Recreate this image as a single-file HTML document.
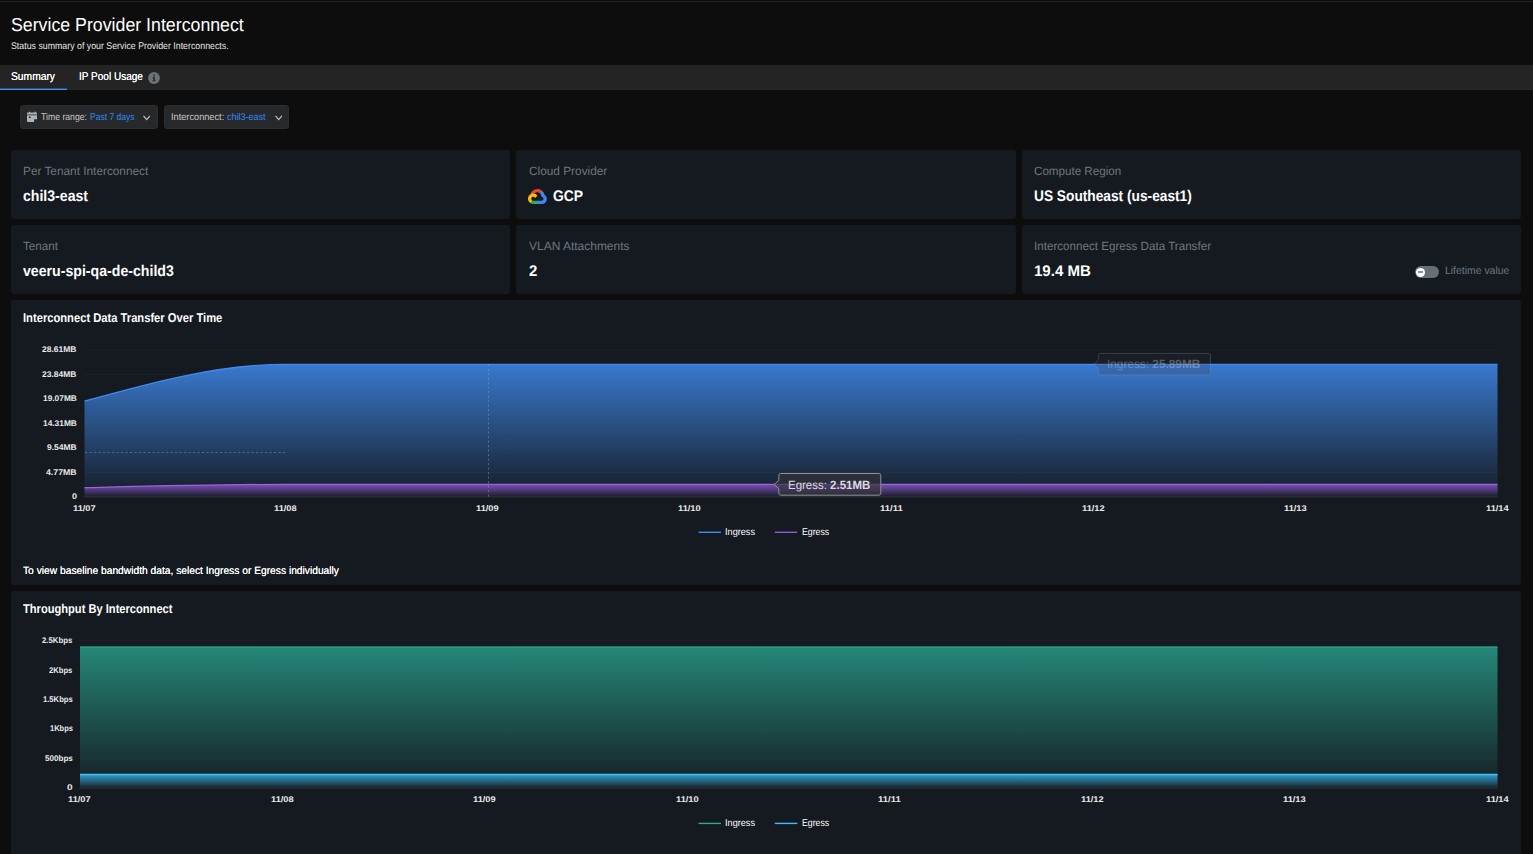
<!DOCTYPE html>
<html lang="en"><head><meta charset="utf-8"><title>Service Provider Interconnect</title>
<style>
html,body{margin:0;padding:0;background:#0d0d0d;overflow:hidden;}
body{width:1533px;height:854px;font-family:"Liberation Sans",sans-serif;}
#root{position:relative;width:1533px;height:854px;overflow:hidden;background:#0d0d0d;}
.t{position:absolute;white-space:nowrap;line-height:1;transform-origin:0 50%;display:block;text-rendering:geometricPrecision;}
.t b{font-weight:700;}
.card{position:absolute;background:#151a21;border-radius:3px;}
</style></head><body><div id="root">
<div style="position:absolute;left:0;top:1px;width:1533px;height:1px;background:#222"></div>
<div style="position:absolute;left:0;top:65px;width:1533px;height:24px;background:#242424"></div>
<div style="position:absolute;left:0;top:89px;width:1533px;height:1px;background:#1e2933"></div>
<div style="position:absolute;left:0;top:88px;width:67px;height:1px;background:rgba(58,148,255,.38)"></div>
<div style="position:absolute;left:0;top:89px;width:67px;height:1px;background:#3a94ff"></div>
<svg style="position:absolute;left:148px;top:72px" width="12" height="12" viewBox="0 0 12 12"><circle cx="6" cy="6" r="5.9" fill="#6a737b"/><rect x="5.2" y="2.6" width="1.7" height="1.6" fill="#2b2e31"/><path d="M4.6 5h2.3v3.3h.7v1H4.5v-1h.7V5.9h-.6z" fill="#2b2e31"/></svg>
<div style="position:absolute;left:20px;top:105px;width:138px;height:24px;box-sizing:border-box;background:#27282a;border:1px solid #24303a;border-radius:3px"></div>
<div style="position:absolute;left:164px;top:105px;width:125px;height:24px;box-sizing:border-box;background:#27282a;border:1px solid #24303a;border-radius:3px"></div>
<svg style="position:absolute;left:27px;top:110.5px" width="10.2" height="11.2" viewBox="0 0 10.2 11.2"><g fill="#adb2b9"><rect x="1.9" y=".5" width="1.1" height="1.6" rx=".45"/><rect x="7.5" y=".5" width="1.3" height="1.6" rx=".5"/><path d="M.8 1.6h8.5a.8.8 0 0 1 .8.8V3.4H0V2.4a.8.8 0 0 1 .8-.8z"/><path d="M0 4.2h10.1v4.1H7.1V10.9H.8a.8.8 0 0 1-.8-.8z"/></g><rect x="2" y="5.5" width="1.6" height="1.6" rx=".3" fill="#26272a"/></svg>
<svg style="position:absolute;left:142.9px;top:114.6px" width="7.4" height="6" viewBox="0 0 7.4 6"><path d="M.5 .9 3.7 4.6 6.9 .9" fill="none" stroke="#bcc0c4" stroke-width="1.25"/></svg>
<svg style="position:absolute;left:275.1px;top:114.6px" width="7.4" height="6" viewBox="0 0 7.4 6"><path d="M.5 .9 3.7 4.6 6.9 .9" fill="none" stroke="#bcc0c4" stroke-width="1.25"/></svg>
<div class="card" style="left:11.0px;top:150px;width:499.0px;height:69px"></div>
<div class="card" style="left:516.0px;top:150px;width:499.6px;height:69px"></div>
<div class="card" style="left:1022.0px;top:150px;width:499.0px;height:69px"></div>
<div class="card" style="left:11.0px;top:225px;width:499.0px;height:69px"></div>
<div class="card" style="left:516.0px;top:225px;width:499.6px;height:69px"></div>
<div class="card" style="left:1022.0px;top:225px;width:499.0px;height:69px"></div>
<div class="card" style="left:11px;top:300px;width:1510px;height:285px"></div>
<div class="card" style="left:11px;top:591px;width:1510px;height:270px"></div>
<svg style="position:absolute;left:527.8px;top:188.8px" width="18.8" height="15.2" viewBox="0 0 256 206"><path fill="#ea4335" d="m170.252 56.819 22.253-22.253 1.483-9.37C153.437-11.677 88.976-7.496 52.42 33.92 42.267 45.423 34.734 59.764 30.717 74.573l7.97-1.123 44.505-7.34 3.436-3.513c19.797-21.742 53.27-24.667 76.128-6.168z"/><path fill="#4285f4" d="M224.205 73.918a100.25 100.25 0 0 0-30.217-48.722l-31.232 31.232a55.515 55.515 0 0 1 20.379 44.037v5.544c15.35 0 27.797 12.445 27.797 27.796 0 15.352-12.446 27.485-27.797 27.485h-55.671l-5.466 5.934v33.34l5.466 5.231h55.67c39.93.311 72.553-31.494 72.864-71.424a72.303 72.303 0 0 0-31.793-60.453"/><path fill="#34a853" d="M71.87 205.796h55.593V161.29H71.87a27.275 27.275 0 0 1-11.399-2.498l-7.887 2.42-22.409 22.253-1.952 7.574c12.567 9.489 27.9 14.825 43.647 14.757"/><path fill="#fbbc05" d="M71.87 61.425C31.94 61.664-.237 94.228.001 134.159a72.301 72.301 0 0 0 28.222 56.88l32.248-32.246c-13.99-6.322-20.208-22.786-13.887-36.776 6.32-13.99 22.786-20.208 36.775-13.888a27.796 27.796 0 0 1 13.887 13.888l32.248-32.248A72.224 72.224 0 0 0 71.87 61.425"/></svg>
<div style="position:absolute;left:1415px;top:266px;width:24px;height:12px;border-radius:6px;background:#677076"></div>
<div style="position:absolute;left:1416.1px;top:267.6px;width:9px;height:9px;border-radius:50%;background:#fff"></div>
<div style="position:absolute;left:1418px;top:271.4px;width:5.2px;height:1.5px;background:#8a9298"></div>
<svg style="position:absolute;left:0;top:0" width="1533" height="854" viewBox="0 0 1533 854">
<defs><linearGradient id="gb" x1="0" y1="362" x2="0" y2="497" gradientUnits="userSpaceOnUse"><stop offset="0" stop-color="#3a7bd2" stop-opacity="1"/><stop offset="1" stop-color="#3a7bd2" stop-opacity="0.02"/></linearGradient><linearGradient id="gp" x1="0" y1="484" x2="0" y2="497" gradientUnits="userSpaceOnUse"><stop offset="0" stop-color="#7d4fb8" stop-opacity="1"/><stop offset="1" stop-color="#7d4fb8" stop-opacity="0"/></linearGradient><linearGradient id="gg" x1="0" y1="640" x2="0" y2="788" gradientUnits="userSpaceOnUse"><stop offset="0" stop-color="#268c7c" stop-opacity="1"/><stop offset="1" stop-color="#268c7c" stop-opacity="0.03"/></linearGradient><linearGradient id="gc" x1="0" y1="774" x2="0" y2="788" gradientUnits="userSpaceOnUse"><stop offset="0" stop-color="#33a0d0" stop-opacity="1"/><stop offset="1" stop-color="#33a0d0" stop-opacity="0.03"/></linearGradient></defs>
<line x1="84.5" x2="1497.5" y1="349.8" y2="349.8" stroke="#1c2228" stroke-width="1"/>
<line x1="84.5" x2="1497.5" y1="374.3" y2="374.3" stroke="#1c2228" stroke-width="1"/>
<line x1="84.5" x2="1497.5" y1="398.8" y2="398.8" stroke="#1c2228" stroke-width="1"/>
<line x1="84.5" x2="1497.5" y1="423.3" y2="423.3" stroke="#1c2228" stroke-width="1"/>
<line x1="84.5" x2="1497.5" y1="447.8" y2="447.8" stroke="#1c2228" stroke-width="1"/>
<line x1="84.5" x2="1497.5" y1="472.3" y2="472.3" stroke="#1c2228" stroke-width="1"/>
<line x1="84.5" x2="1497.5" y1="496.8" y2="496.8" stroke="#2a2d34" stroke-width="1"/>
<path d="M84.5,401.2C151.3,382.6 218.2,364.4 285,364.4L1497.5,364.4L1497.5,496.6L84.5,496.6Z" fill="url(#gb)"/>
<path d="M84.5,401.2C151.3,382.6 218.2,364.4 285,364.4L1497.5,364.4" fill="none" stroke="#3f8af0" stroke-width="1.4"/>
<path d="M84.5,487.7C151.3,486.1 218.2,484.35 285,484.35L1497.5,484.35L1497.5,496.4L84.5,496.4Z" fill="url(#gp)"/>
<path d="M84.5,487.7C151.3,486.1 218.2,484.35 285,484.35L1497.5,484.35" fill="none" stroke="#9a62e0" stroke-width="1.25"/>
<line x1="84" x2="1497.5" y1="496.7" y2="496.7" stroke="#2c2f36" stroke-width="1"/>
<line x1="488.5" x2="488.5" y1="364" y2="497" stroke="#8fa0b8" stroke-opacity=".45" stroke-width="1" stroke-dasharray="2.25 2.25"/>
<line x1="85" x2="285" y1="452.5" y2="452.5" stroke="#8fa0b8" stroke-opacity=".45" stroke-width="1" stroke-dasharray="2.25 2.25"/>
<line x1="698.5" x2="721" y1="532.3" y2="532.3" stroke="#3f8af0" stroke-width="1.4"/>
<line x1="774.8" x2="797.2" y1="532.3" y2="532.3" stroke="#8f5bd6" stroke-width="1.4"/>
<path d="M780.8,473.5 H878.8 Q880.8,473.5 880.8,475.5 V493.2 Q880.8,495.2 878.8,495.2 H780.8 Q778.8,495.2 778.8,493.2 V488.4 L774.2,484.4 L778.8,480.4 V475.5 Q778.8,473.5 780.8,473.5 Z" fill="#333335" fill-opacity=".66" stroke="#8e9298" stroke-width="1" opacity="1"/>
<path d="M1100.3,353.4 H1208.6 Q1210.6,353.4 1210.6,355.4 V373.0 Q1210.6,375.0 1208.6,375.0 H1100.3 Q1098.3,375.0 1098.3,373.0 V368.2 L1093.7,364.2 L1098.3,360.2 V355.4 Q1098.3,353.4 1100.3,353.4 Z" fill="#333335" fill-opacity=".66" stroke="#8e9298" stroke-width="1" opacity=".3"/>
<line x1="79.5" x2="1497.5" y1="640.9" y2="640.9" stroke="#1c2228" stroke-width="1"/>
<line x1="79.5" x2="1497.5" y1="670.3" y2="670.3" stroke="#1c2228" stroke-width="1"/>
<line x1="79.5" x2="1497.5" y1="699.8" y2="699.8" stroke="#1c2228" stroke-width="1"/>
<line x1="79.5" x2="1497.5" y1="729.2" y2="729.2" stroke="#1c2228" stroke-width="1"/>
<line x1="79.5" x2="1497.5" y1="758.7" y2="758.7" stroke="#1c2228" stroke-width="1"/>
<line x1="79.5" x2="1497.5" y1="788.1" y2="788.1" stroke="#272b31" stroke-width="1"/>
<path d="M80,646.7H1497.5V787.6H80Z" fill="url(#gg)"/>
<line x1="80" x2="1497.5" y1="647.2" y2="647.2" stroke="#29a892" stroke-width="1.3"/>
<path d="M80,774H1497.5V787.6H80Z" fill="url(#gc)"/>
<line x1="80" x2="1497.5" y1="774.5" y2="774.5" stroke="#3bbff9" stroke-width="1.3"/>
<line x1="79" x2="1497.5" y1="788.0" y2="788.0" stroke="#2a2e34" stroke-width="1"/>
<line x1="698.5" x2="721" y1="823.4" y2="823.4" stroke="#29a892" stroke-width="1.4"/>
<line x1="774.8" x2="797.4" y1="823.4" y2="823.4" stroke="#3bbff9" stroke-width="1.4"/>
</svg>
<span id="t0" class="t" style="left:11.00px;top:16px;font-size:18.75px;font-weight:400;color:#ffffff;transform:scaleX(0.9465);">Service Provider Interconnect</span>
<span id="t1" class="t" style="left:11.00px;top:42px;font-size:9.75px;font-weight:400;color:#e6e6e6;transform:scaleX(0.9024);">Status summary of your Service Provider Interconnects.</span>
<span id="t2" class="t" style="left:11.00px;top:72px;font-size:11.25px;font-weight:400;color:#ffffff;transform:scaleX(0.9140);text-shadow:0 0 .4px #fff;">Summary</span>
<span id="t3" class="t" style="left:78.60px;top:72px;font-size:11.25px;font-weight:400;color:#ffffff;transform:scaleX(0.8910);text-shadow:0 0 .4px #fff;">IP Pool Usage</span>
<span id="t4" class="t" style="left:41.20px;top:113px;font-size:9.75px;font-weight:400;color:#c9c9c9;transform:scaleX(0.8902);">Time range:</span>
<span id="t5" class="t" style="left:89.80px;top:113px;font-size:9.75px;font-weight:400;color:#2f8bf5;transform:scaleX(0.8734);">Past 7 days</span>
<span id="t6" class="t" style="left:170.80px;top:113px;font-size:9.75px;font-weight:400;color:#c9c9c9;transform:scaleX(0.9437);">Interconnect:</span>
<span id="t7" class="t" style="left:227.00px;top:113px;font-size:9.75px;font-weight:400;color:#2f8bf5;transform:scaleX(0.9249);">chil3-east</span>
<span id="t8" class="t" style="left:23.30px;top:165px;font-size:12.00px;font-weight:400;color:#6f767d;transform:scaleX(0.9850);">Per Tenant Interconnect</span>
<span id="t9" class="t" style="left:23.20px;top:189px;font-size:15.40px;font-weight:700;color:#ffffff;transform:scaleX(0.9153);">chil3-east</span>
<span id="t10" class="t" style="left:528.70px;top:165px;font-size:12.00px;font-weight:400;color:#6f767d;transform:scaleX(0.9865);">Cloud Provider</span>
<span id="t11" class="t" style="left:553.20px;top:189px;font-size:15.40px;font-weight:700;color:#ffffff;transform:scaleX(0.9023);">GCP</span>
<span id="t12" class="t" style="left:1034.00px;top:165px;font-size:12.00px;font-weight:400;color:#6f767d;transform:scaleX(0.9682);">Compute Region</span>
<span id="t13" class="t" style="left:1034.00px;top:189px;font-size:15.40px;font-weight:700;color:#ffffff;transform:scaleX(0.8914);">US Southeast (us-east1)</span>
<span id="t14" class="t" style="left:23.30px;top:240px;font-size:12.00px;font-weight:400;color:#6f767d;transform:scaleX(0.9714);">Tenant</span>
<span id="t15" class="t" style="left:23.20px;top:264px;font-size:15.40px;font-weight:700;color:#ffffff;transform:scaleX(0.9184);">veeru-spi-qa-de-child3</span>
<span id="t16" class="t" style="left:528.70px;top:240px;font-size:12.00px;font-weight:400;color:#6f767d;transform:scaleX(0.9978);">VLAN Attachments</span>
<span id="t17" class="t" style="left:528.70px;top:264px;font-size:15.40px;font-weight:700;color:#ffffff;transform:scaleX(0.9693);">2</span>
<span id="t18" class="t" style="left:1034.00px;top:240px;font-size:12.00px;font-weight:400;color:#6f767d;transform:scaleX(0.9685);">Interconnect Egress Data Transfer</span>
<span id="t19" class="t" style="left:1034.00px;top:264px;font-size:15.40px;font-weight:700;color:#ffffff;transform:scaleX(0.9781);">19.4 MB</span>
<span id="t20" class="t" style="left:1444.80px;top:266px;font-size:10.80px;font-weight:400;color:#6b7884;transform:scaleX(0.9651);">Lifetime value</span>
<span id="t21" class="t" style="left:23.20px;top:312px;font-size:12.75px;font-weight:700;color:#ffffff;transform:scaleX(0.8771);">Interconnect Data Transfer Over Time</span>
<span id="t22" class="t" style="left:42.30px;top:346px;font-size:8.25px;font-weight:700;color:#e9e9e9;transform:scaleX(1.0273);">28.61MB</span>
<span id="t23" class="t" style="left:42.30px;top:371px;font-size:8.25px;font-weight:700;color:#e9e9e9;transform:scaleX(1.0273);">23.84MB</span>
<span id="t24" class="t" style="left:42.80px;top:395px;font-size:8.25px;font-weight:700;color:#e9e9e9;transform:scaleX(1.0124);">19.07MB</span>
<span id="t25" class="t" style="left:42.80px;top:420px;font-size:8.25px;font-weight:700;color:#e9e9e9;transform:scaleX(1.0124);">14.31MB</span>
<span id="t26" class="t" style="left:47.00px;top:444px;font-size:8.25px;font-weight:700;color:#e9e9e9;transform:scaleX(1.0280);">9.54MB</span>
<span id="t27" class="t" style="left:46.10px;top:469px;font-size:8.25px;font-weight:700;color:#e9e9e9;transform:scaleX(1.0592);">4.77MB</span>
<span id="t28" class="t" style="left:71.70px;top:493px;font-size:8.25px;font-weight:700;color:#e9e9e9;transform:scaleX(1.0884);">0</span>
<span id="t29" class="t" style="left:72.50px;top:505px;font-size:8.25px;font-weight:700;color:#e9e9e9;transform:scaleX(1.1236);">11/07</span>
<span id="t30" class="t" style="left:274.36px;top:505px;font-size:8.25px;font-weight:700;color:#e9e9e9;transform:scaleX(1.1236);">11/08</span>
<span id="t31" class="t" style="left:476.22px;top:505px;font-size:8.25px;font-weight:700;color:#e9e9e9;transform:scaleX(1.1236);">11/09</span>
<span id="t32" class="t" style="left:678.08px;top:505px;font-size:8.25px;font-weight:700;color:#e9e9e9;transform:scaleX(1.1236);">11/10</span>
<span id="t33" class="t" style="left:879.94px;top:505px;font-size:8.25px;font-weight:700;color:#e9e9e9;transform:scaleX(1.1494);">11/11</span>
<span id="t34" class="t" style="left:1081.80px;top:505px;font-size:8.25px;font-weight:700;color:#e9e9e9;transform:scaleX(1.1236);">11/12</span>
<span id="t35" class="t" style="left:1283.66px;top:505px;font-size:8.25px;font-weight:700;color:#e9e9e9;transform:scaleX(1.1236);">11/13</span>
<span id="t36" class="t" style="left:1485.52px;top:505px;font-size:8.25px;font-weight:700;color:#e9e9e9;transform:scaleX(1.1236);">11/14</span>
<span id="t37" class="t" style="left:725.00px;top:528px;font-size:9.90px;font-weight:400;color:#ffffff;transform:scaleX(0.9262);">Ingress</span>
<span id="t38" class="t" style="left:801.70px;top:528px;font-size:9.90px;font-weight:400;color:#ffffff;transform:scaleX(0.8850);">Egress</span>
<span id="t39" class="t" style="left:23.00px;top:566px;font-size:10.70px;font-weight:400;color:#ffffff;transform:scaleX(0.9584);text-shadow:0 0 .3px #fff;">To view baseline bandwidth data, select Ingress or Egress individually</span>
<span id="t40" class="t" style="left:788.40px;top:479px;font-size:12.00px;font-weight:400;color:#dcd8e2;transform:scaleX(0.9565);">Egress: <b>2.51MB</b></span>
<span id="t41" class="t" style="left:1107.00px;top:358px;font-size:12.00px;font-weight:400;color:#dcd8e2;transform:scaleX(0.9849);opacity:.33;">Ingress: <b>25.89MB</b></span>
<span id="t42" class="t" style="left:23.20px;top:603px;font-size:12.75px;font-weight:700;color:#ffffff;transform:scaleX(0.8721);">Throughput By Interconnect</span>
<span id="t43" class="t" style="left:42.30px;top:637px;font-size:8.25px;font-weight:700;color:#e9e9e9;transform:scaleX(0.9441);">2.5Kbps</span>
<span id="t44" class="t" style="left:49.30px;top:667px;font-size:8.25px;font-weight:700;color:#e9e9e9;transform:scaleX(0.9239);">2Kbps</span>
<span id="t45" class="t" style="left:42.90px;top:696px;font-size:8.25px;font-weight:700;color:#e9e9e9;transform:scaleX(0.9254);">1.5Kbps</span>
<span id="t46" class="t" style="left:49.60px;top:725px;font-size:8.25px;font-weight:700;color:#e9e9e9;transform:scaleX(0.9120);">1Kbps</span>
<span id="t47" class="t" style="left:44.80px;top:755px;font-size:8.25px;font-weight:700;color:#e9e9e9;transform:scaleX(0.9776);">500bps</span>
<span id="t48" class="t" style="left:66.60px;top:784px;font-size:8.25px;font-weight:700;color:#e9e9e9;transform:scaleX(1.2190);">0</span>
<span id="t49" class="t" style="left:68.00px;top:796px;font-size:8.25px;font-weight:700;color:#e9e9e9;transform:scaleX(1.1236);">11/07</span>
<span id="t50" class="t" style="left:270.50px;top:796px;font-size:8.25px;font-weight:700;color:#e9e9e9;transform:scaleX(1.1236);">11/08</span>
<span id="t51" class="t" style="left:473.00px;top:796px;font-size:8.25px;font-weight:700;color:#e9e9e9;transform:scaleX(1.1236);">11/09</span>
<span id="t52" class="t" style="left:675.50px;top:796px;font-size:8.25px;font-weight:700;color:#e9e9e9;transform:scaleX(1.1236);">11/10</span>
<span id="t53" class="t" style="left:878.00px;top:796px;font-size:8.25px;font-weight:700;color:#e9e9e9;transform:scaleX(1.1494);">11/11</span>
<span id="t54" class="t" style="left:1080.50px;top:796px;font-size:8.25px;font-weight:700;color:#e9e9e9;transform:scaleX(1.1236);">11/12</span>
<span id="t55" class="t" style="left:1283.00px;top:796px;font-size:8.25px;font-weight:700;color:#e9e9e9;transform:scaleX(1.1236);">11/13</span>
<span id="t56" class="t" style="left:1485.50px;top:796px;font-size:8.25px;font-weight:700;color:#e9e9e9;transform:scaleX(1.1236);">11/14</span>
<span id="t57" class="t" style="left:725.00px;top:819px;font-size:9.90px;font-weight:400;color:#ffffff;transform:scaleX(0.9262);">Ingress</span>
<span id="t58" class="t" style="left:801.70px;top:819px;font-size:9.90px;font-weight:400;color:#ffffff;transform:scaleX(0.8850);">Egress</span>
</div></body></html>
